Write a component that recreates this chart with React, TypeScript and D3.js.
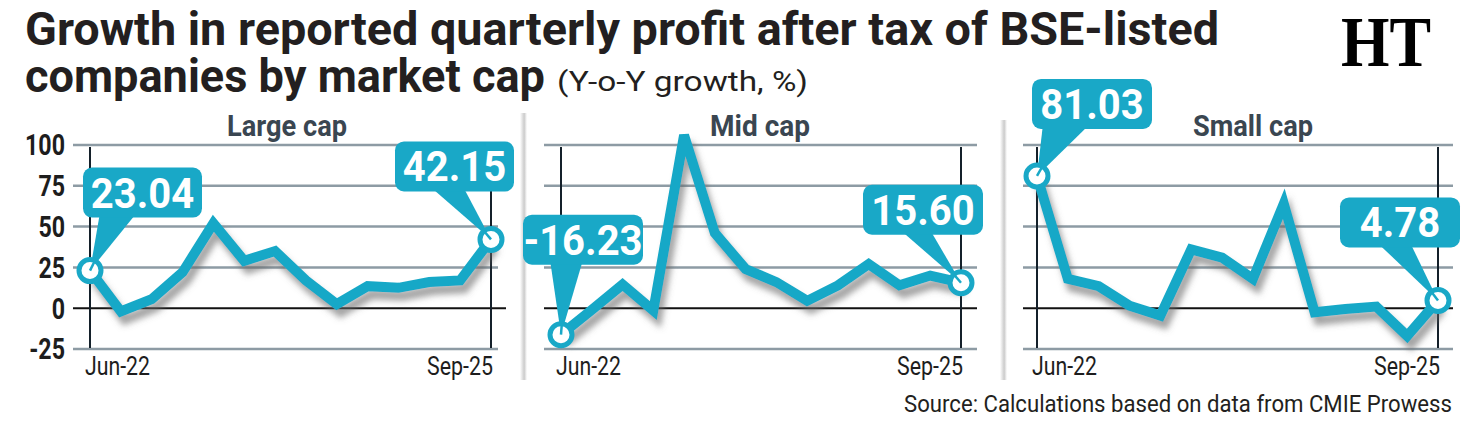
import { useEffect, useRef } from "react";
import * as d3 from "d3";

// quarterly Y-o-Y growth in PAT (%), Jun-22 .. Sep-25
const quarters = [
  "Jun-22", "Sep-22", "Dec-22", "Mar-23", "Jun-23", "Sep-23", "Dec-23",
  "Mar-24", "Jun-24", "Sep-24", "Dec-24", "Mar-25", "Jun-25", "Sep-25",
];
const largeCap = [23.04, -2, 5.5, 22, 52, 29, 35, 17, 2.5, 13.5, 12.5, 16, 17, 42.15];
const midCap = [-16.23, -1, 14.5, -1.5, 106, 46, 24, 16, 4.5, 14, 27, 14, 20, 15.6];
const smallCap = [81.03, 18, 13.5, 1.5, -4.5, 36, 31, 18, 64, -2.5, -0.5, 1, -17, 4.78];
const yTicks = [100, 75, 50, 25, 0, -25];

const TEAL = "#19a8c7";
const FONT = "Roboto, 'Noto Sans', sans-serif";

const panels = [
  {
    title: "Large cap", values: largeCap, x0: 90, x1: 491, g0: 73, g1: 498, z1: 506, tx: 287, tw: 120,
    callouts: [
      { i: 0, dx: -7, dy: -103, w: 119, b0: 17, b1: 54 },
      { i: 13, dx: -96, dy: -98, w: 119, b0: 35, b1: 68 },
    ],
  },
  {
    title: "Mid cap", values: midCap, x0: 561, x1: 961, g0: 544, g1: 977, z1: 977, tx: 760, tw: 100,
    callouts: [
      { i: 0, dx: -38, dy: -120, w: 120, b0: 27, b1: 60 },
      { i: 13, dx: -98, dy: -98, w: 120, b0: 37, b1: 67 },
    ],
  },
  {
    title: "Small cap", values: smallCap, x0: 1037, x1: 1438, g0: 1023, g1: 1453, z1: 1453, tx: 1253, tw: 120,
    callouts: [
      { i: 0, dx: -5, dy: -97, w: 120, b0: 11, b1: 58 },
      { i: 13, dx: -98, dy: -103, w: 120, b0: 37, b1: 70 },
    ],
  },
];

// squeeze text horizontally, either to a fixed width or by a factor of its natural width
function squeeze(sel: any, width: number | null, factor = 1) {
  sel.each(function (this: SVGTextElement) {
    const n = this.getComputedTextLength();
    const w = width != null ? width : n * factor;
    d3.select(this).attr("textLength", w).attr("lengthAdjust", "spacingAndGlyphs");
  });
}

const App = () => {
  const ref = useRef<SVGSVGElement>(null);

  useEffect(() => {
    document.body.style.margin = "0";
    const svg = d3.select(ref.current);
    svg.selectAll("*").remove();

    const defs = svg.append("defs");
    const f = defs.append("filter").attr("id", "shadow")
      .attr("x", "-10%").attr("y", "-10%").attr("width", "130%").attr("height", "140%");
    f.append("feGaussianBlur").attr("in", "SourceAlpha").attr("stdDeviation", 3).attr("result", "b");
    f.append("feOffset").attr("in", "b").attr("dx", 4).attr("dy", 8).attr("result", "o");
    f.append("feFlood").attr("flood-color", "#666").attr("flood-opacity", 0.6);
    f.append("feComposite").attr("in2", "o").attr("operator", "in");
    const m = f.append("feMerge");
    m.append("feMergeNode");
    m.append("feMergeNode").attr("in", "SourceGraphic");

    const sep = defs.append("linearGradient").attr("id", "sep");
    sep.append("stop").attr("offset", "0%").attr("stop-color", "#ffffff");
    sep.append("stop").attr("offset", "60%").attr("stop-color", "#cbcbcb");
    sep.append("stop").attr("offset", "100%").attr("stop-color", "#ffffff");

    // title
    svg.append("text").attr("x", 25).attr("y", 45)
      .attr("font-family", FONT).attr("font-weight", 700).attr("font-size", 46).attr("fill", "#231f20")
      .text("Growth in reported quarterly profit after tax of BSE-listed")
      .call(squeeze, 1194);
    svg.append("text").attr("x", 25).attr("y", 92)
      .attr("font-family", FONT).attr("font-weight", 700).attr("font-size", 46).attr("fill", "#231f20")
      .text("companies by market cap")
      .call(squeeze, 520);
    svg.append("text").attr("x", 557).attr("y", 91)
      .attr("font-family", FONT).attr("font-size", 28).attr("fill", "#231f20")
      .text("(Y-o-Y growth, %)")
      .call(squeeze, 251);

    // logo
    svg.append("text").attr("x", 1341).attr("y", 66)
      .attr("font-family", "'Liberation Serif', 'DejaVu Serif', serif").attr("font-weight", 700)
      .attr("font-size", 72).attr("fill", "#000").text("HT")
      .call(squeeze, 90);

    // separators
    [520, 1000].forEach((sx, k) => {
      svg.append("rect").attr("x", sx).attr("y", k === 0 ? 113 : 120).attr("width", 7)
        .attr("height", k === 0 ? 267 : 260).attr("fill", "url(#sep)");
    });

    const y = d3.scaleLinear().domain([-25, 100]).range([349, 145]);

    panels.forEach((p, pi) => {
      const x = d3.scalePoint<string>().domain(quarters).range([p.x0, p.x1]);
      const g = svg.append("g");

      g.append("text").attr("x", p.tx).attr("y", 136).attr("text-anchor", "middle")
        .attr("font-family", FONT).attr("font-weight", 700).attr("font-size", 30).attr("fill", "#3a4651")
        .text(p.title)
        .call(squeeze, p.tw);

      // gridlines
      g.selectAll(".grid").data(yTicks.filter((d) => d !== 0)).enter().append("line")
        .attr("x1", p.g0).attr("x2", p.g1)
        .attr("y1", (d) => y(d)).attr("y2", (d) => y(d))
        .attr("stroke", "#8d9ba4").attr("stroke-width", 2.5);
      g.append("line").attr("x1", p.g0).attr("x2", p.z1).attr("y1", y(0)).attr("y2", y(0))
        .attr("stroke", "#111").attr("stroke-width", 2);
      [p.x0, p.x1].forEach((vx) => {
        g.append("line").attr("x1", vx).attr("x2", vx).attr("y1", y(100) + 2).attr("y2", y(-25) - 1)
          .attr("stroke", "#14202a").attr("stroke-width", 2);
      });

      if (pi === 0) {
        g.selectAll(".ytick").data(yTicks).enter().append("text")
          .attr("x", 65).attr("y", (d) => y(d)).attr("dy", "0.36em").attr("text-anchor", "end")
          .attr("font-family", FONT).attr("font-weight", 700).attr("font-size", 29).attr("fill", "#1d1d1d")
          .text((d) => d)
          .call(squeeze, null, 0.8);
      }

      g.append("text").attr("x", p.x0 - 5).attr("y", 375)
        .attr("font-family", FONT).attr("font-size", 26).attr("fill", "#1d1d1d").text(quarters[0])
        .call(squeeze, 65);
      g.append("text").attr("x", p.x1 + 2).attr("y", 375).attr("text-anchor", "end")
        .attr("font-family", FONT).attr("font-size", 26).attr("fill", "#1d1d1d")
        .text(quarters[quarters.length - 1])
        .call(squeeze, 66);

      const line = d3.line<number>().x((_, i) => x(quarters[i])!).y((d) => y(d));
      g.append("path").datum(p.values).attr("d", line).attr("fill", "none")
        .attr("stroke", TEAL).attr("stroke-width", 10).attr("stroke-linejoin", "miter")
        .attr("filter", "url(#shadow)");

      p.callouts.forEach((c) => {
        const px = x(quarters[c.i])!;
        const py = y(p.values[c.i]);
        const bx = px + c.dx;
        const by = py + c.dy;
        g.append("path")
          .attr("d", `M${bx + c.b0},${by + 45}L${bx + c.b1},${by + 45}L${px},${py}Z`)
          .attr("fill", TEAL);
        g.append("rect").attr("x", bx).attr("y", by).attr("width", c.w).attr("height", 50)
          .attr("rx", 9).attr("fill", TEAL);
        g.append("text").attr("x", bx + c.w / 2).attr("y", by + 40).attr("text-anchor", "middle")
          .attr("font-family", FONT).attr("font-weight", 700).attr("font-size", 43).attr("fill", "#fff")
          .text(p.values[c.i].toFixed(2))
          .call(squeeze, null, 0.93);
        g.append("circle").attr("cx", px).attr("cy", py).attr("r", 11)
          .attr("fill", "#fff").attr("stroke", TEAL).attr("stroke-width", 5);
        const mx = bx + (c.b0 + c.b1) / 2 - px;
        const my = by + 45 - py;
        const len = Math.hypot(mx, my);
        g.append("line").attr("x1", px).attr("y1", py)
          .attr("x2", px + (mx / len) * 11).attr("y2", py + (my / len) * 11)
          .attr("stroke", TEAL).attr("stroke-width", 2.5);
      });
    });

    svg.append("text").attr("x", 1452).attr("y", 412).attr("text-anchor", "end")
      .attr("font-family", FONT).attr("font-size", 24).attr("fill", "#231f20")
      .text("Source: Calculations based on data from CMIE Prowess")
      .call(squeeze, 548);
  }, []);

  return <svg ref={ref} width={1464} height={430} style={{ display: "block", background: "#fff" }} />;
};

export default App;
